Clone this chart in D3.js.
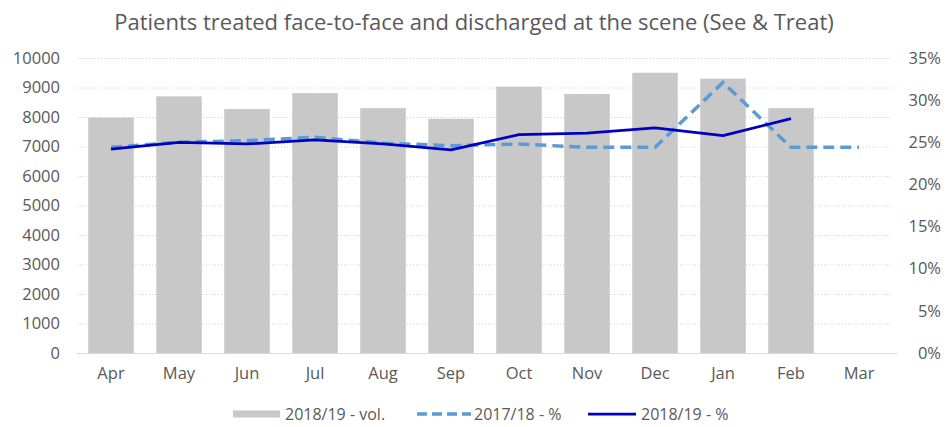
<!DOCTYPE html>
<html>
<head>
<meta charset="utf-8">
<script src="https://cdn.jsdelivr.net/npm/d3@7"></script>
<style>
  body { margin: 0; background: #fff; }
  svg { display: block; font-family: "Open Sans", sans-serif; }
</style>
</head>
<body>
<div id="chart"></div>
<script>
// Data
const months = ["Apr", "May", "Jun", "Jul", "Aug", "Sep", "Oct", "Nov", "Dec", "Jan", "Feb", "Mar"];
const volume1819 = [7980, 8700, 8270, 8810, 8300, 7940, 9030, 8780, 9500, 9300, 8300, null];
const pct1718 = [24.4, 25.0, 25.2, 25.6, 24.9, 24.6, 24.8, 24.4, 24.4, 32.1, 24.4, 24.4];
const pct1819 = [24.2, 25.0, 24.8, 25.3, 24.8, 24.1, 25.9, 26.1, 26.7, 25.8, 27.8, null];
const volTicks = d3.range(0, 10001, 1000);
const pctTicks = d3.range(0, 36, 5);

const width = 946, height = 427;
const marginTop = 58, marginRight = 53, marginBottom = 74, marginLeft = 77;
const textColor = "#595959";
const fontSize = 16.5;

const svg = d3.select("#chart").append("svg")
  .attr("width", width)
  .attr("height", height);

const x = d3.scaleBand()
  .domain(months)
  .range([marginLeft, width - marginRight])
  .paddingInner(0.33)
  .paddingOuter(0.165);

const yVol = d3.scaleLinear()
  .domain([0, 10000])
  .range([height - marginBottom, marginTop]);

const yPct = d3.scaleLinear()
  .domain([0, 35])
  .range(yVol.range());

// title
svg.append("text")
  .attr("x", width / 2 + 1)
  .attr("y", 30)
  .attr("text-anchor", "middle")
  .attr("fill", textColor)
  .attr("font-size", 22)
  .text("Patients treated face-to-face and discharged at the scene (See & Treat)");

// gridlines
svg.append("g")
  .selectAll("line")
  .data(volTicks.filter(d => d > 0))
  .join("line")
  .attr("x1", marginLeft)
  .attr("x2", width - marginRight)
  .attr("y1", d => yVol(d) + 0.5)
  .attr("y2", d => yVol(d) + 0.5)
  .attr("stroke", "#d0d0d0")
  .attr("stroke-dasharray", "1,2");

// left axis
svg.append("g")
  .attr("transform", `translate(${marginLeft},0)`)
  .call(d3.axisLeft(yVol).tickValues(volTicks).tickSize(0).tickPadding(17).tickFormat(d3.format("d")))
  .call(g => g.select(".domain").remove())
  .call(g => g.selectAll("text")
    .attr("fill", textColor)
    .attr("font-size", fontSize)
    .attr("font-family", "Open Sans, sans-serif"));

// right axis
svg.append("g")
  .attr("transform", `translate(${width - marginRight},0)`)
  .call(d3.axisRight(yPct).tickValues(pctTicks).tickSize(0).tickFormat(d => d + "%"))
  .call(g => g.select(".domain").remove())
  .call(g => g.selectAll("text")
    .attr("x", 48)
    .attr("text-anchor", "end")
    .attr("fill", textColor)
    .attr("font-size", fontSize)
    .attr("font-family", "Open Sans, sans-serif"));

// bars
svg.append("g")
  .attr("fill", "#c8c8c8")
  .selectAll("rect")
  .data(months.map((m, i) => [m, volume1819[i]]).filter(d => d[1] != null))
  .join("rect")
  .attr("x", d => x(d[0]))
  .attr("y", d => yVol(d[1]))
  .attr("width", x.bandwidth())
  .attr("height", d => yVol(0) - yVol(d[1]));

// baseline
svg.append("line")
  .attr("x1", marginLeft)
  .attr("x2", width - marginRight + 4)
  .attr("y1", yVol(0) + 0.5)
  .attr("y2", yVol(0) + 0.5)
  .attr("stroke", "#d9d9d9");

// bottom axis labels
svg.append("g")
  .attr("transform", `translate(0,${yVol(0)})`)
  .call(d3.axisBottom(x).tickSize(0).tickPadding(14))
  .call(g => g.select(".domain").remove())
  .call(g => g.selectAll("text")
    .attr("fill", textColor)
    .attr("font-size", fontSize)
    .attr("font-family", "Open Sans, sans-serif"));

const cx = m => x(m) + x.bandwidth() / 2;

const line = d3.line()
  .defined(d => d[1] != null)
  .x(d => cx(d[0]))
  .y(d => yPct(d[1]));

svg.append("path")
  .datum(months.map((m, i) => [m, pct1718[i]]))
  .attr("fill", "none")
  .attr("stroke", "#5b9bd5")
  .attr("stroke-width", 3.5)
  .attr("stroke-dasharray", "11,6")
  .attr("d", line);

svg.append("path")
  .datum(months.map((m, i) => [m, pct1819[i]]))
  .attr("fill", "none")
  .attr("stroke", "#0000c0")
  .attr("stroke-width", 2.75)
  .attr("stroke-linejoin", "round")
  .attr("d", line);

// legend
const legend = svg.append("g")
  .attr("font-size", 16)
  .attr("fill", textColor);

legend.append("rect")
  .attr("x", 233).attr("y", 410.5)
  .attr("width", 47).attr("height", 7)
  .attr("fill", "#c8c8c8");
legend.append("text").attr("x", 285).attr("y", 420).text("2018/19 - vol.");

legend.append("line")
  .attr("x1", 417).attr("x2", 471)
  .attr("y1", 414).attr("y2", 414)
  .attr("stroke", "#5b9bd5")
  .attr("stroke-width", 3.5)
  .attr("stroke-dasharray", "10,5");
legend.append("text").attr("x", 474).attr("y", 420).text("2017/18 - %");

legend.append("line")
  .attr("x1", 588).attr("x2", 636)
  .attr("y1", 414).attr("y2", 414)
  .attr("stroke", "#0000c0")
  .attr("stroke-width", 2.75);
legend.append("text").attr("x", 641).attr("y", 420).text("2018/19 - %");
</script>
</body>
</html>
